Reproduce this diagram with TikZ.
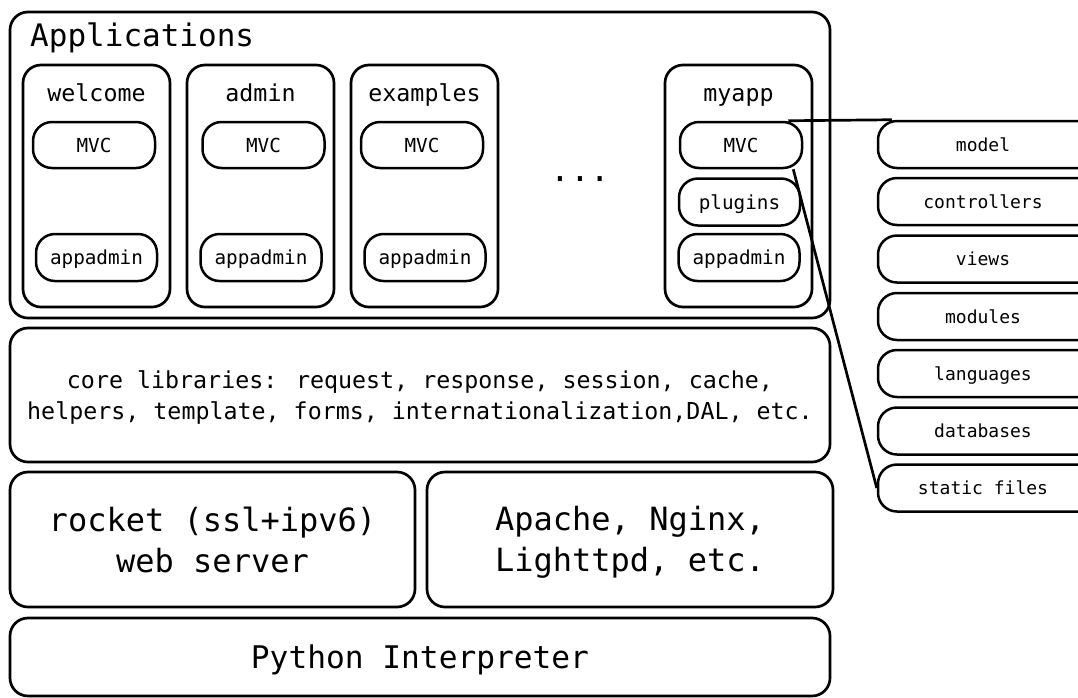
\documentclass[tikz,border=0pt]{standalone}
\usepackage{fontspec}
\setmainfont{DejaVu Sans Mono}
\begin{document}
\begin{tikzpicture}[x=1pt,y=-1pt,
  frame/.style={draw, line width=2.7pt, rounded corners=18pt, inner sep=0pt, fill=white},
  pill/.style={draw, line width=2.5pt, rounded corners=19pt, inner sep=0pt, fill=white,
     minimum height=47pt, text height=14pt, text depth=0pt, font=\fontsize{19.3}{23}\selectfont},
  side/.style={pill, minimum width=220pt, text height=13pt, font=\fontsize{18}{22}\selectfont},
  appbox/.style={frame, minimum width=147pt, minimum height=242pt},
  apptitle/.style={inner sep=0pt, anchor=base, font=\fontsize{23.3}{28}\selectfont},
  big/.style={inner sep=0pt, font=\fontsize{32}{41}\selectfont, align=center},
  link/.style={line width=2.7pt}]
\clip (0,0) rectangle (1078,697);
\useasboundingbox (0,0) rectangle (1078,697);

% Applications
\node[frame, minimum width=820pt, minimum height=306pt] (apps) at (420,165) {};
\node[anchor=base west, inner sep=0pt, font=\fontsize{31}{36}\selectfont] (appstitle) at (30,46) {Applications};

\node[appbox] (welcome) at (96.5,186) {};
\node[appbox] (admin) at (260.5,186) {};
\node[appbox] (examples) at (424.5,186) {};
\node[appbox] (myapp) at (738.5,186) {};

\node[apptitle] (t1) at (96.5,101) {welcome};
\node[apptitle] (t2) at (260.5,101) {admin};
\node[apptitle] (t3) at (424.5,101) {examples};
\node[apptitle] (t4) at (738.5,101) {myapp};

\node[pill, minimum width=122pt, minimum height=46pt] (m1) at (94,145) {MVC};
\node[pill, minimum width=122pt, minimum height=46pt] (m2) at (263.5,145) {MVC};
\node[pill, minimum width=122pt, minimum height=46pt] (m3) at (422,145) {MVC};
\node[pill, minimum width=122pt, minimum height=46pt] (m4) at (741,145) {MVC};

\node[pill, minimum width=121pt] (p4) at (739.5,202) {plugins};

\node[pill, minimum width=121pt] (a1) at (96.5,257.5) {appadmin};
\node[pill, minimum width=121pt] (a2) at (261,257.5) {appadmin};
\node[pill, minimum width=121pt] (a3) at (425,257.5) {appadmin};
\node[pill, minimum width=121pt] (a4) at (739,257.5) {appadmin};

\node[inner sep=0pt, anchor=base, font=\fontsize{33}{36}\selectfont] (dots) at (580,181) {...};

% right column
\node[side] (model) at (988,144.5) {\hspace*{-10pt}model};
\node[side] (ctrl) at (988,201.5) {\hspace*{-10pt}controllers};
\node[side] (views) at (988,259) {\hspace*{-10pt}views};
\node[side] (modules) at (988,316.5) {\hspace*{-10pt}modules};
\node[side] (langs) at (988,373.5) {\hspace*{-10pt}languages};
\node[side] (dbs) at (988,431) {\hspace*{-10pt}databases};
\node[side] (static) at (988,488) {\hspace*{-10pt}static files};

% core
\node[frame, minimum width=820pt, minimum height=134pt] (core) at (420,395) {};
\node[inner sep=0pt, align=center, font=\fontsize{23.3}{31}\selectfont] (corelbl) at ([yshift=-2pt]core.center)
  {core libraries: request, response, session, cache,\\helpers, template, forms, internationalization,DAL, etc.};

\node[frame, minimum width=405pt, minimum height=135pt] (rocket) at (212.5,539.5) {};
\node[big] (rocketlbl) at (rocket.center) {rocket (ssl+ipv6)\\web server};
\node[frame, minimum width=406pt, minimum height=135pt] (apache) at (630,539.5) {};
\node[big] (apachelbl) at ([yshift=-3pt]apache.center) {Apache, Nginx,\\Lighttpd, etc.};

\node[frame, minimum width=820pt, minimum height=78pt] (python) at (420,657) {};
\node[inner sep=0pt, font=\fontsize{31.2}{36}\selectfont] (pythonlbl) at ([yshift=-3pt]python.center) {Python Interpreter};

% connectors
\draw[link] ([xshift=-15pt]m4.north east) -- ([xshift=15pt]model.north west);
\draw[link] ([xshift=-10pt]m4.south east) -- (static.west);
\end{tikzpicture}
\end{document}
